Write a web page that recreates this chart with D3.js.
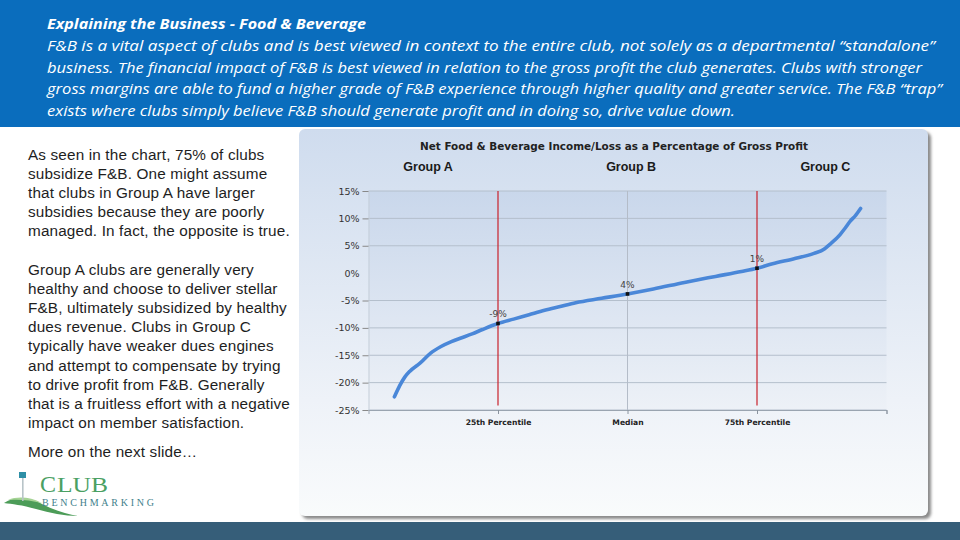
<!DOCTYPE html>
<html>
<head>
<meta charset="utf-8">
<script src="https://cdn.jsdelivr.net/npm/d3@7"></script>
<style>
  body { margin: 0; background: #fff; }
  svg { display: block; }
</style>
</head>
<body>
<div class="d3-container"></div>
<script>
// curve: percentile of clubs -> net F&B as % of gross profit
const percentiles = [5, 6, 7, 8, 10, 12, 14, 16, 18, 20, 22, 25, 28, 31, 34, 37, 40, 45, 50,
  55, 61, 67, 72, 75, 78, 82, 86, 88, 89, 91, 92, 93, 94, 95];
const values = [-22.6, -20.6, -19.0, -17.9, -16.4, -14.6, -13.4, -12.5, -11.8, -11.1, -10.3, -9.2,
  -8.4, -7.6, -6.8, -6.1, -5.4, -4.6, -3.8, -2.9, -1.7, -0.6, 0.3, 0.9, 1.7, 2.6, 3.6, 4.4, 5.2,
  7.0, 8.2, 9.5, 10.5, 11.8];

// marked points and their labels
const markPct = [25, 50, 75];
const markVal = [-9.2, -3.8, 0.9];
const markLabels = ["-9%", "4%", "1%"];

// axes
const yTicks = [15, 10, 5, 0, -5, -10, -15, -20, -25];
const xTickPct = [25, 50, 75];
const xTickLabels = ["25th Percentile", "Median", "75th Percentile"];
const groups = ["Group A", "Group B", "Group C"];
const groupPct = [11.5, 50.7, 88.2];

const headerLines = [
  "F&B is a vital aspect of clubs and is best viewed in context to the entire club, not solely as a departmental \u201cstandalone\u201d",
  "business. The financial impact of F&B is best viewed in relation to the gross profit the club generates. Clubs with stronger",
  "gross margins are able to fund a higher grade of F&B experience through higher quality and greater service. The F&B \u201ctrap\u201d",
  "exists where clubs simply believe F&B should generate profit and in doing so, drive value down."
];
const headerWidths = [888, 875, 895, 688];

const para1 = [
  "As seen in the chart, 75% of clubs",
  "subsidize F&B. One might assume",
  "that clubs in Group A have larger",
  "subsidies because they are poorly",
  "managed. In fact, the opposite is true."
];
const para2 = [
  "Group A clubs are generally very",
  "healthy and choose to deliver stellar",
  "F&B, ultimately subsidized by healthy",
  "dues revenue. Clubs in Group C",
  "typically have weaker dues engines",
  "and attempt to compensate by trying",
  "to drive profit from F&B. Generally",
  "that is a fruitless effort with a negative",
  "impact on member satisfaction."
];

const width = 960;
const height = 540;

const svg = d3.select(".d3-container")
  .append("svg")
  .attr("width", width)
  .attr("height", height)
  .attr("viewBox", [0, 0, width, height]);

const defs = svg.append("defs");
const pg = defs.append("linearGradient").attr("id", "panelGrad")
  .attr("x1", 0).attr("y1", 0).attr("x2", 0).attr("y2", 1);
pg.append("stop").attr("offset", "0%").attr("stop-color", "#cfdcee");
pg.append("stop").attr("offset", "70%").attr("stop-color", "#eef2f8");
pg.append("stop").attr("offset", "100%").attr("stop-color", "#f9fbfc");
const ag = defs.append("linearGradient").attr("id", "plotGrad")
  .attr("x1", 0).attr("y1", 0).attr("x2", 0).attr("y2", 1);
ag.append("stop").attr("offset", "0%").attr("stop-color", "#c9d7eb");
ag.append("stop").attr("offset", "100%").attr("stop-color", "#edf1f7");
defs.append("filter").attr("id", "blur")
  .append("feGaussianBlur").attr("stdDeviation", 1.5);

// header band
svg.append("rect").attr("x", 0).attr("y", 0).attr("width", width).attr("height", 127)
  .attr("fill", "#0a6dbd");
svg.append("text")
  .attr("x", 47).attr("y", 29)
  .attr("fill", "#fff")
  .attr("font-family", "'Open Sans', sans-serif")
  .attr("font-style", "italic").attr("font-weight", "bold")
  .attr("font-size", 15)
  .attr("textLength", 319).attr("lengthAdjust", "spacingAndGlyphs")
  .text("Explaining the Business  - Food & Beverage");
svg.append("g")
  .selectAll("text")
  .data(headerLines)
  .join("text")
  .attr("x", 47)
  .attr("y", (d, i) => 51 + i * 21.5)
  .attr("fill", "#fff")
  .attr("font-family", "'Open Sans', sans-serif")
  .attr("font-style", "italic")
  .attr("font-size", 15)
  .attr("textLength", (d, i) => headerWidths[i])
  .attr("lengthAdjust", "spacingAndGlyphs")
  .text(d => d);

// bottom bar
svg.append("rect").attr("x", 0).attr("y", 522).attr("width", width).attr("height", 18)
  .attr("fill", "#365e79");

// left text
const leftText = svg.append("g")
  .attr("font-family", "'Liberation Sans', Arial, sans-serif")
  .attr("font-size", 15.3)
  .attr("letter-spacing", 0.15)
  .attr("fill", "#1e1e1e");
leftText.selectAll(".p1").data(para1).join("text")
  .attr("class", "p1").attr("x", 28).attr("y", (d, i) => 160 + i * 19.1).text(d => d);
leftText.selectAll(".p2").data(para2).join("text")
  .attr("class", "p2").attr("x", 28).attr("y", (d, i) => 275 + i * 19.1).text(d => d);
leftText.append("text").attr("x", 28).attr("y", 457).text("More on the next slide\u2026");

// logo
const logo = svg.append("g");
logo.append("path")
  .attr("d", "M4,503 C16,495 30,497 44,505 C56,511 68,514 78,516 C64,516 50,513 36,509 C22,505 12,504 4,503 Z")
  .attr("fill", "#4c9c58");
logo.append("path")
  .attr("d", "M8,500 C18,496 30,497 42,503 C30,500 18,499 8,500 Z")
  .attr("fill", "#a5d394");
logo.append("rect").attr("x", 22).attr("y", 473).attr("width", 1.6).attr("height", 28).attr("fill", "#b8c4c8");
logo.append("rect").attr("x", 19).attr("y", 472).attr("width", 7).attr("height", 6).attr("fill", "#2e8fa6");
logo.append("text").attr("x", 40).attr("y", 492)
  .attr("font-family", "'Liberation Serif', serif").attr("fill", "#4aa063")
  .attr("font-size", 24).text("C");
logo.append("text").attr("x", 57).attr("y", 492)
  .attr("font-family", "'Liberation Serif', serif").attr("fill", "#4aa063")
  .attr("font-size", 20).attr("textLength", 51).attr("lengthAdjust", "spacingAndGlyphs").text("LUB");
logo.append("text").attr("x", 42).attr("y", 506)
  .attr("font-family", "'Liberation Serif', serif").attr("fill", "#3f7f8c")
  .attr("font-size", 10).attr("textLength", 112).attr("lengthAdjust", "spacing").text("BENCHMARKING");

// chart panel
svg.append("rect").attr("x", 302).attr("y", 132).attr("width", 629).attr("height", 387)
  .attr("rx", 6).attr("fill", "#8a8a8a").attr("filter", "url(#blur)");
svg.append("rect").attr("x", 299).attr("y", 129).attr("width", 629).attr("height", 387)
  .attr("rx", 6).attr("fill", "url(#panelGrad)");

const margin = {top: 191, bottom: 410, left: 368.5, right: 886.5};

const x = d3.scaleLinear().domain([0, 100]).range([margin.left, margin.right]);
const y = d3.scaleLinear().domain([-25, 15]).range([margin.bottom, margin.top]);

svg.append("rect")
  .attr("x", x(0)).attr("y", y(15))
  .attr("width", x(100) - x(0)).attr("height", y(-25) - y(15))
  .attr("fill", "url(#plotGrad)");

svg.append("text")
  .attr("x", 614).attr("y", 150)
  .attr("text-anchor", "middle")
  .attr("font-family", "'DejaVu Sans', Tahoma, sans-serif")
  .attr("font-weight", "bold").attr("font-size", 11)
  .attr("fill", "#222")
  .attr("textLength", 388).attr("lengthAdjust", "spacingAndGlyphs")
  .text("Net Food & Beverage Income/Loss as a Percentage of Gross Profit");

svg.append("g")
  .selectAll("text")
  .data(groups)
  .join("text")
  .attr("x", (d, i) => x(groupPct[i]))
  .attr("y", 171)
  .attr("text-anchor", "middle")
  .attr("font-family", "'Liberation Sans Narrow', 'Arial Narrow', sans-serif")
  .attr("font-weight", "bold").attr("font-size", 12.5)
  .attr("fill", "#1a1a1a")
  .text(d => d);

// horizontal grid (no line at 0%)
svg.append("g")
  .selectAll("line")
  .data(yTicks.filter(d => d !== 0))
  .join("line")
  .attr("x1", x(0)).attr("x2", x(100))
  .attr("y1", d => y(d)).attr("y2", d => y(d))
  .attr("stroke", "#b4bfcc").attr("stroke-width", 1);

// y axis
const yAxis = svg.append("g")
  .attr("transform", `translate(${x(0)},0)`)
  .call(d3.axisLeft(y).tickValues(yTicks).tickSize(6).tickPadding(3).tickFormat(d => d + "%"));
yAxis.select(".domain").attr("stroke", "#c5ced8");
yAxis.selectAll(".tick line").attr("stroke", d => d === 0 ? "none" : "#888");
yAxis.selectAll(".tick text")
  .attr("font-family", "'DejaVu Sans', Verdana, sans-serif")
  .attr("font-size", 9.5).attr("fill", "#333");

// x axis
const xAxis = svg.append("g")
  .attr("transform", `translate(0,${y(-25)})`)
  .call(d3.axisBottom(x).tickValues(xTickPct.concat([100])).tickSize(4).tickPadding(6)
    .tickFormat(d => { const k = xTickPct.indexOf(d); return k < 0 ? "" : xTickLabels[k]; }));
xAxis.select(".domain").attr("stroke", "#9aa4b0");
xAxis.selectAll(".tick line").attr("stroke", "#8a939e");
xAxis.selectAll(".tick text")
  .attr("font-family", "'DejaVu Sans', Verdana, sans-serif")
  .attr("font-weight", "bold").attr("font-size", 7.6).attr("fill", "#222");

// median grid line
svg.append("line")
  .attr("x1", x(50)).attr("x2", x(50)).attr("y1", y(15)).attr("y2", y(-25))
  .attr("stroke", "#b4bcc8").attr("stroke-width", 1);

// red percentile lines
svg.append("g")
  .selectAll("line")
  .data([25, 75])
  .join("line")
  .attr("x1", d => x(d)).attr("x2", d => x(d))
  .attr("y1", y(15)).attr("y2", y(-24.2))
  .attr("stroke", "#c9202b").attr("stroke-width", 1.2);

// curve
const line = d3.line()
  .x((d, i) => x(percentiles[i]))
  .y(d => y(d))
  .curve(d3.curveMonotoneX);
svg.append("path")
  .datum(values)
  .attr("fill", "none")
  .attr("stroke", "#4a87d8")
  .attr("stroke-width", 3.6)
  .attr("stroke-linecap", "round")
  .attr("d", line);

// marked points
const marks = svg.append("g");
marks.selectAll("rect")
  .data(markVal)
  .join("rect")
  .attr("x", (d, i) => x(markPct[i]) - 1.8)
  .attr("y", d => y(d) - 1.8)
  .attr("width", 3.6).attr("height", 3.6)
  .attr("fill", "#111");
marks.selectAll("text")
  .data(markVal)
  .join("text")
  .attr("x", (d, i) => x(markPct[i]))
  .attr("y", d => y(d) - 6)
  .attr("text-anchor", "middle")
  .attr("font-family", "'DejaVu Sans', Verdana, sans-serif")
  .attr("font-size", 9).attr("fill", "#444")
  .text((d, i) => markLabels[i]);

svg.node();
</script>
</body>
</html>
